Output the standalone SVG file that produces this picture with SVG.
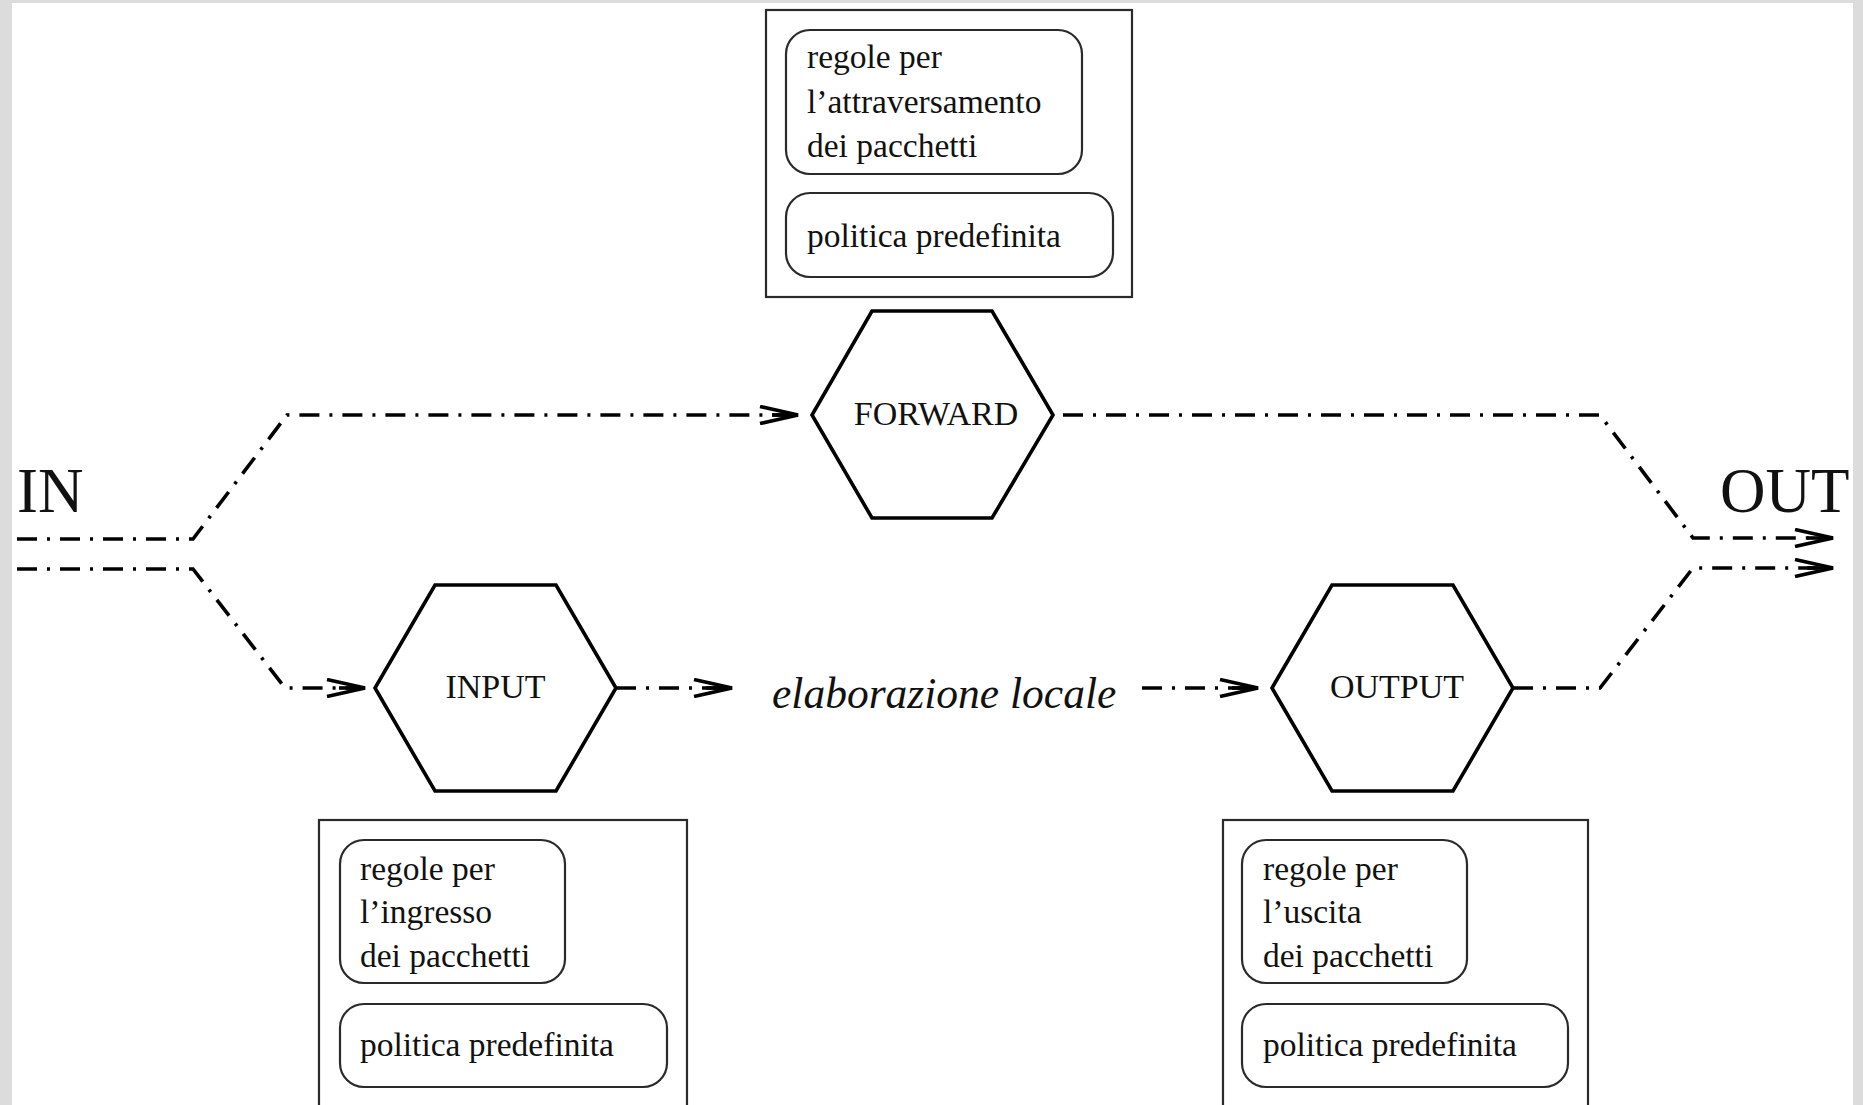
<svg xmlns="http://www.w3.org/2000/svg" width="1863" height="1105" viewBox="0 0 1863 1105">
<style>
.frame{fill:#dcdcdc}
.page{fill:#ffffff}
.box{fill:none;stroke:#2a2a2a;stroke-width:2.2}
.rbox{fill:none;stroke:#2a2a2a;stroke-width:2.2}
.hex{fill:#ffffff;stroke:#000;stroke-width:3.6;stroke-linejoin:miter}
.t{font-family:"Liberation Serif","Times New Roman",serif;font-size:33.5px;fill:#111}
.hl{font-family:"Liberation Serif","Times New Roman",serif;font-size:34px;fill:#111;text-anchor:middle}
.big{font-family:"Liberation Serif","Times New Roman",serif;font-size:63px;fill:#111}
.it{font-family:"Liberation Serif","Times New Roman",serif;font-size:43.5px;font-style:italic;fill:#111}
.flow{fill:none;stroke:#000;stroke-width:3.6;stroke-dasharray:20 10 3 10;stroke-linejoin:miter}
</style>
<defs>
<marker id="arr" viewBox="0 0 42 20" refX="40" refY="10" markerWidth="42" markerHeight="20" markerUnits="userSpaceOnUse" orient="auto">
<path d="M2,1.5 L40,10 L2,18.5" fill="none" stroke="#000" stroke-width="3.6" stroke-linejoin="miter"/>
<path d="M14,10 L40,10" fill="none" stroke="#000" stroke-width="3.6"/>
</marker>
</defs>
<rect class="frame" x="0" y="0" width="1863" height="1105"/>
<rect class="page" x="12" y="3" width="1841" height="1102"/>

<g id="connectors">
<path class="flow" d="M17,539 L193,539 L287,415 L798,415" marker-end="url(#arr)"/>
<path class="flow" d="M17,569 L193,569 L285,688 L365,688" marker-end="url(#arr)"/>
<path class="flow" d="M1063,415 L1600,415 L1693,538 L1833,538" marker-end="url(#arr)"/>
<path class="flow" d="M616,688 L732,688" marker-end="url(#arr)"/>
<path class="flow" d="M1142,688 L1258,688" marker-end="url(#arr)"/>
<path class="flow" d="M1513,688 L1600,688 L1693,568 L1833,568" marker-end="url(#arr)"/>
</g>

<g id="label-in"><text class="big" x="17" y="512">IN</text></g>
<g id="label-out"><text class="big" x="1720" y="512">OUT</text></g>
<g id="label-local"><text class="it" x="772" y="708">elaborazione locale</text></g>

<g id="forward-rules">
<rect class="box" x="766" y="10" width="366" height="287"/>
<rect class="rbox" x="786" y="30" width="296" height="144" rx="24" ry="24"/>
<text class="t" x="807" y="68">regole per</text>
<text class="t" x="807" y="113">l’attraversamento</text>
<text class="t" x="807" y="157">dei pacchetti</text>
<rect class="rbox" x="786" y="193" width="327" height="84" rx="24" ry="24"/>
<text class="t" x="807" y="247">politica predefinita</text>
</g>

<g id="forward">
<polygon class="hex" points="872,311 992,311 1053,415 992,518 872,518 812,415"/>
<text class="hl" x="936" y="425">FORWARD</text>
</g>

<g id="input">
<polygon class="hex" points="435,585 556,585 616,688 556,791 435,791 375,688"/>
<text class="hl" x="495.5" y="698">INPUT</text>
</g>

<g id="output">
<polygon class="hex" points="1332,585 1453,585 1513,688 1453,791 1332,791 1272,688"/>
<text class="hl" x="1397" y="698">OUTPUT</text>
</g>

<g id="input-rules">
<rect class="box" x="319" y="820" width="368" height="300"/>
<rect class="rbox" x="340" y="840" width="225" height="143" rx="24" ry="24"/>
<text class="t" x="360" y="880">regole per</text>
<text class="t" x="360" y="923">l’ingresso</text>
<text class="t" x="360" y="967">dei pacchetti</text>
<rect class="rbox" x="340" y="1004" width="327" height="83" rx="24" ry="24"/>
<text class="t" x="360" y="1056">politica predefinita</text>
</g>

<g id="output-rules">
<rect class="box" x="1223" y="820" width="365" height="300"/>
<rect class="rbox" x="1242" y="840" width="225" height="143" rx="24" ry="24"/>
<text class="t" x="1263" y="880">regole per</text>
<text class="t" x="1263" y="923">l’uscita</text>
<text class="t" x="1263" y="967">dei pacchetti</text>
<rect class="rbox" x="1242" y="1004" width="326" height="83" rx="24" ry="24"/>
<text class="t" x="1263" y="1056">politica predefinita</text>
</g>
</svg>
